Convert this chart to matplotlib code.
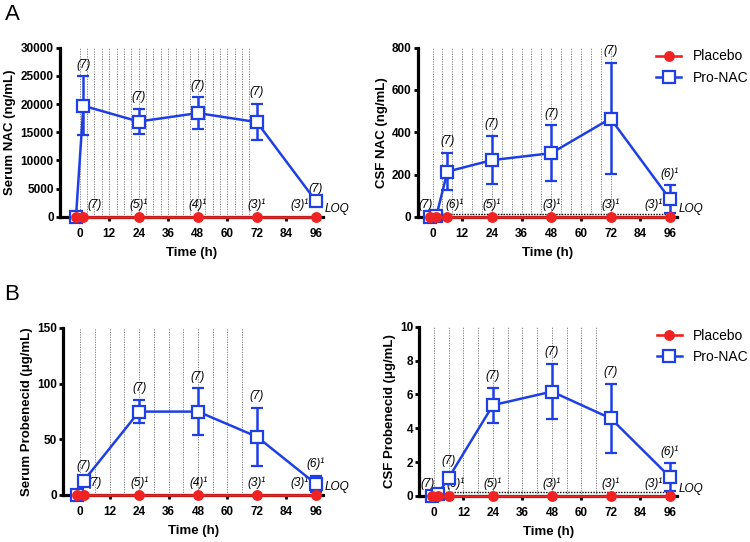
import numpy as np
import matplotlib
matplotlib.use('Agg')
from matplotlib import pyplot as plt
from matplotlib.lines import Line2D

plt.rcParams['font.family'] = ['Liberation Sans', 'DejaVu Sans']

blue = '#1f3fe6'
red = '#f02222'

# Serum NAC (ng/mL)
snac_t = [-1.5, 1.5, 24, 48, 72, 96]
snac_pro = [0, 19700, 16900, 18400, 16800, 2800]
snac_pro_err = [0, 5200, 2250, 2780, 3250, 0]
snac_pla_t = [-1.5, 1.5, 24, 48, 72, 96]
snac_pla = [0, 0, 0, 0, 0, 0]
snac_pro_n = ['', '(7)', '(7)', '(7)', '(7)', '(7)']
snac_pla_n = ['', '(7)', '(5)¹', '(4)¹', '(3)¹', '(3)¹']

# CSF NAC (ng/mL)
cnac_t = [-1, 1.5, 6, 24, 48, 72, 96]
cnac_pro = [0, 3, 214, 268, 301, 465, 84]
cnac_pro_err = [0, 5, 88, 114, 131, 264, 66]
cnac_pla_t = [-1, 1.5, 6, 24, 48, 72, 96]
cnac_pla = [0, 0, 0, 0, 0, 0, 0]
cnac_pro_n = ['', '', '(7)', '(7)', '(7)', '(7)', '(6)¹']
cnac_pla_n = ['(7)', '', '(6)¹', '(5)¹', '(3)¹', '(3)¹', '(3)¹']
cnac_loq = 12

# Serum probenecid (ug/mL)
sprb_t = [-1.5, 1.5, 24, 48, 72, 96]
sprb_pro = [0, 12.8, 74.8, 74.8, 52.2, 9.8]
sprb_pro_err = [0, 3, 10.5, 21, 26, 7.5]
sprb_pla_t = [-1.5, 1.5, 24, 48, 72, 96]
sprb_pla = [0, 0, 0, 0, 0, 0]
sprb_pro_n = ['', '(7)', '(7)', '(7)', '(7)', '(6)¹']
sprb_pla_n = ['', '(7)', '(5)¹', '(4)¹', '(3)¹', '(3)¹']

# CSF probenecid (ug/mL)
cprb_t = [-1, 1.5, 6, 24, 48, 72, 96]
cprb_pro = [0, 0.1, 1.08, 5.37, 6.17, 4.58, 1.12]
cprb_pro_err = [0, 0.3, 0.3, 1.04, 1.65, 2.05, 0.82]
cprb_pla_t = [-1, 1.5, 6, 24, 48, 72, 96]
cprb_pla = [0, 0, 0, 0, 0, 0, 0]
cprb_pro_n = ['', '', '(7)', '(7)', '(7)', '(7)', '(6)¹']
cprb_pla_n = ['(7)', '', '(6)¹', '(5)¹', '(3)¹', '(3)¹', '(3)¹']
cprb_loq = 0.25

xticks = [0, 12, 24, 36, 48, 60, 72, 84, 96]
lab_kw = dict(textcoords='offset points', va='bottom', fontsize=8.5, style='italic')


def panel(rect, t, pro, err, pt, pla, pro_n, pla_n, ymax, ystep, ylabel,
          grid_step, grid_end, loq=None, xmin=-6, legend=False):
    ax = fig.add_axes(rect)
    for gx in np.arange(0, grid_end + 0.1, grid_step):
        ax.axvline(gx, color='#707070', ls=(0, (1.5, 1.5)), lw=0.6, zorder=0)
    if loq is not None:
        ax.plot([-2, 96], [loq, loq], color='black', ls=(0, (1, 1)), lw=1.0, zorder=1)
    ax.errorbar(t, pro, yerr=err, color=blue, lw=1.8, elinewidth=1.8, capsize=4.5,
                capthick=1.8, marker='s', ms=8, mfc='white', mec=blue, mew=1.6,
                zorder=4, clip_on=False)
    ax.plot(pt, pla, color=red, lw=1.9, marker='o', ms=6.8, zorder=5, clip_on=False)
    for x, y, e, s in zip(t, pro, err, pro_n):
        if s:
            ax.annotate(s, (x, y + e), xytext=(0, 4), ha='center', **lab_kw)
    for x, s in zip(pt, pla_n):
        if not s:
            continue
        if x >= 90:
            ax.annotate(s, (x, 0), xytext=(-5, 4), ha='right', **lab_kw)
        elif x < 0:
            ax.annotate(s, (x, 0), xytext=(-3, 4), ha='center', **lab_kw)
        elif x < 3:
            ax.annotate(s, (x, 0), xytext=(8, 4), ha='center', **lab_kw)
        elif x < 10:
            ax.annotate(s, (x, 0), xytext=(5, 4), ha='center', **lab_kw)
        else:
            ax.annotate(s, (x, 0), xytext=(0, 4), ha='center', **lab_kw)
    ax.annotate('LOQ', (96, 0), xytext=(6, 1), textcoords='offset points',
                fontsize=8.5, style='italic', va='bottom', ha='left')
    ax.set_xlim(xmin, 99)
    ax.set_ylim(0, ymax)
    ax.set_xticks(xticks)
    ax.set_yticks(np.arange(0, ymax + 1e-9, ystep))
    ax.spines['top'].set_visible(False)
    ax.spines['right'].set_visible(False)
    ax.spines['left'].set_linewidth(2.3)
    ax.spines['bottom'].set_linewidth(2.3)
    ax.tick_params(width=2.0, length=3, pad=1.5, labelsize=8.5)
    ax.tick_params(axis='x', pad=5)
    for lab in ax.get_xticklabels() + ax.get_yticklabels():
        lab.set_fontweight('bold')
    ax.set_xlabel('Time (h)', fontsize=9.5, fontweight='bold', labelpad=5)
    ax.set_ylabel(ylabel, fontsize=9.5, fontweight='bold', labelpad=3)
    if legend:
        handles = [
            Line2D([], [], color=red, lw=1.9, marker='o', ms=6.8),
            Line2D([], [], color=blue, lw=1.8, marker='s', ms=8, mfc='white', mew=1.6),
        ]
        ax.legend(handles, ['Placebo', 'Pro-NAC'], loc='upper left',
                  bbox_to_anchor=(0.92, 0.99), frameon=False, fontsize=10,
                  handlelength=1.8, handletextpad=0.8, borderaxespad=0,
                  borderpad=0, labelspacing=0.55)
    return ax


fig = plt.figure(figsize=(7.5, 5.42), dpi=100)

panel([0.080, 0.600, 0.351, 0.312], snac_t, snac_pro, snac_pro_err, snac_pla_t,
      snac_pla, snac_pro_n, snac_pla_n, 30000, 5000, 'Serum NAC (ng/mL)',
      3, 69, xmin=-8)
panel([0.557, 0.600, 0.346, 0.312], cnac_t, cnac_pro, cnac_pro_err, cnac_pla_t,
      cnac_pla, cnac_pro_n, cnac_pla_n, 800, 200, 'CSF NAC (ng/mL)',
      4, 72, loq=cnac_loq, legend=True)
panel([0.084, 0.087, 0.347, 0.308], sprb_t, sprb_pro, sprb_pro_err, sprb_pla_t,
      sprb_pla, sprb_pro_n, sprb_pla_n, 150, 50, 'Serum Probenecid (\u03bcg/mL)',
      6, 66, xmin=-7)
panel([0.559, 0.085, 0.344, 0.312], cprb_t, cprb_pro, cprb_pro_err, cprb_pla_t,
      cprb_pla, cprb_pro_n, cprb_pla_n, 10, 2, 'CSF Probenecid (\u03bcg/mL)',
      6, 66, loq=cprb_loq, legend=True)

fig.text(0.006, 0.973, 'A', fontsize=16, va='center')
fig.text(0.006, 0.456, 'B', fontsize=16, va='center')

fig.savefig('out.png', dpi=100)
